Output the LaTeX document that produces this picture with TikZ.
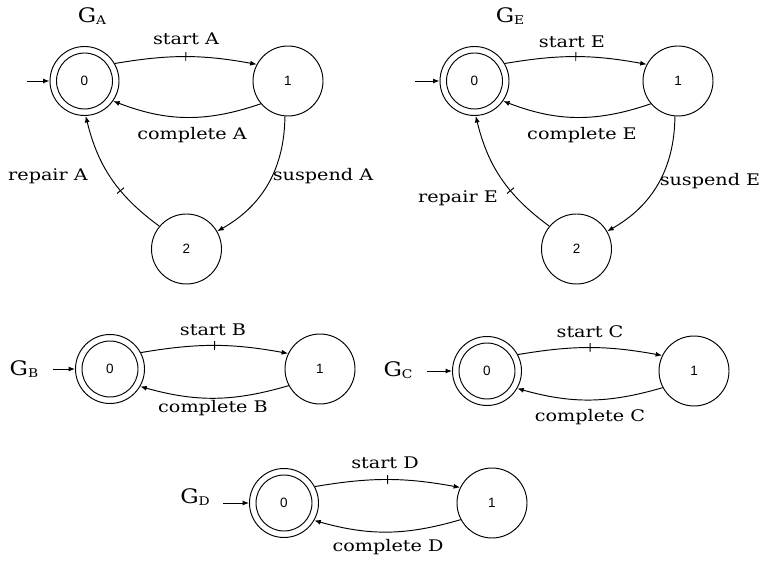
\documentclass[tikz,border=0pt]{standalone}
\usepackage{fontspec}
\setmainfont{DejaVu Serif}
\newfontfamily\numfont{Liberation Sans}
\usetikzlibrary{arrows.meta}

% wide serif labels
\newcommand\wlbl[1]{\scalebox{1.2}[1]{#1}}
\newcommand\gname[1]{\scalebox{1.15}[1]{{\fontsize{20}{20}\selectfont G}\raisebox{-2pt}{\fontsize{12}{12}\selectfont #1}}}

\begin{document}
\begin{tikzpicture}[x=1pt,y=-1pt,
  line width=0.95pt,
  st/.style={circle,draw,inner sep=0pt,minimum size=70pt,
    font=\numfont\fontsize{13.5}{15}\selectfont},
  acc/.style={st,minimum size=69pt,
    path picture={\draw[line width=0.95pt] (path picture bounding box.center) circle[radius=28pt];}},
  edge/.style={-{Latex[length=6.5pt,width=5pt]}},
  ctrltick/.style={sloped,draw,inner sep=0pt,minimum width=0pt,minimum height=9pt},
  lbl/.style={inner sep=0pt,font=\fontsize{16}{18}\selectfont},
  gl/.style={inner sep=0pt}]
\useasboundingbox (0,0) rectangle (764,564);

% ---------- G_A ----------
\node[acc] (A0) at (84.5,81) {0};
\node[st]  (A1) at (288,81) {1};
\node[st]  (A2) at (186.5,249) {2};
\node[gl]  (GA) at (92,16) {\gname{A}};
\coordinate (A0in) at (27,81);
\draw[edge] (A0in) -- (A0);
\draw[edge] (A0.30) to[bend left=10] node[ctrltick]{} (A1.152);
\draw[edge] (A1.220) to[bend left=20] (A0.-35);
\draw[edge] (A1.265) to[bend left=30] (A2.30);
\draw[edge] (A2.140) to[bend left=20] node[ctrltick,pos=.38]{} (A0.-88);
\node[lbl] (lA1) at (186,39)  {\wlbl{start A}};
\node[lbl] (lA2) at (192,135) {\wlbl{complete A}};
\node[lbl] (lA3) at (48,176)  {\wlbl{repair A}};
\node[lbl] (lA4) at (323,176) {\wlbl{suspend A}};

% ---------- G_E ----------
\node[acc] (E0) at (474.5,81) {0};
\node[st]  (E1) at (678,81) {1};
\node[st]  (E2) at (576.5,249) {2};
\node[gl]  (GE) at (510,16) {\gname{E}};
\coordinate (E0in) at (415,81);
\draw[edge] (E0in) -- (E0);
\draw[edge] (E0.30) to[bend left=10] node[ctrltick]{} (E1.152);
\draw[edge] (E1.220) to[bend left=20] (E0.-35);
\draw[edge] (E1.265) to[bend left=30] (E2.30);
\draw[edge] (E2.140) to[bend left=20] node[ctrltick,pos=.38]{} (E0.-88);
\node[lbl] (lE1) at (572,42)  {\wlbl{start E}};
\node[lbl] (lE2) at (582,135) {\wlbl{complete E}};
\node[lbl] (lE3) at (458,198) {\wlbl{repair E}};
\node[lbl] (lE4) at (710,181) {\wlbl{suspend E}};

% ---------- G_B ----------
\node[acc] (B0) at (110,369) {0};
\node[st]  (B1) at (320,369) {1};
\node[gl]  (GB) at (24,369) {\gname{B}};
\coordinate (B0in) at (53,369);
\draw[edge] (B0in) -- (B0);
\draw[edge] (B0.28) to[bend left=10] node[ctrltick]{} (B1.154);
\draw[edge] (B1.208) to[bend left=16] (B0.-30);
\node[lbl] (lB1) at (213,330) {\wlbl{start B}};
\node[lbl] (lB2) at (213,408) {\wlbl{complete B}};

% ---------- G_C ----------
\node[acc] (C0) at (487,371) {0};
\node[st]  (C1) at (694,371) {1};
\node[gl]  (GC) at (398,370) {\gname{C}};
\coordinate (C0in) at (427,371);
\draw[edge] (C0in) -- (C0);
\draw[edge] (C0.28) to[bend left=10] node[ctrltick]{} (C1.154);
\draw[edge] (C1.208) to[bend left=16] (C0.-30);
\node[lbl] (lC1) at (590,332) {\wlbl{start C}};
\node[lbl] (lC2) at (590,417) {\wlbl{complete C}};

% ---------- G_D ----------
\node[acc] (D0) at (284,503) {0};
\node[st]  (D1) at (492,503) {1};
\node[gl]  (GD) at (195,497) {\gname{D}};
\coordinate (D0in) at (223,503);
\draw[edge] (D0in) -- (D0);
\draw[edge] (D0.28) to[bend left=10] node[ctrltick]{} (D1.154);
\draw[edge] (D1.208) to[bend left=16] (D0.-30);
\node[lbl] (lD1) at (385,463) {\wlbl{start D}};
\node[lbl] (lD2) at (388,547) {\wlbl{complete D}};
\end{tikzpicture}
\end{document}
